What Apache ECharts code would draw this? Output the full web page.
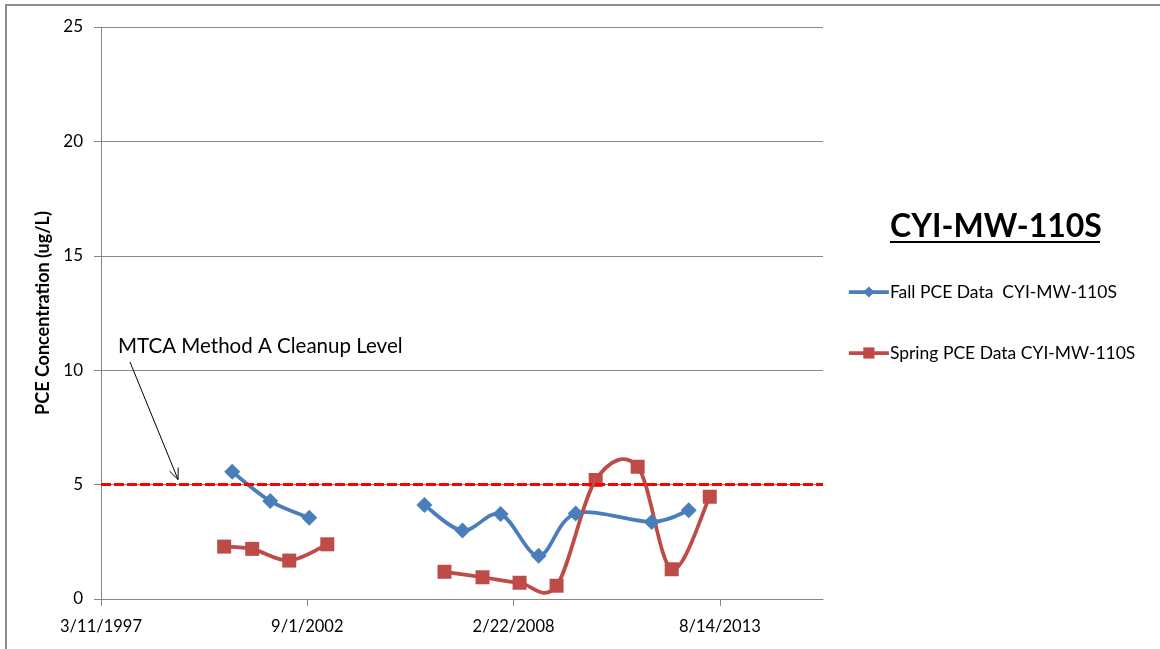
<!DOCTYPE html>
<html>
<head>
<meta charset="utf-8">
<title>CYI-MW-110S</title>
<script src="https://cdn.jsdelivr.net/npm/echarts@6/dist/echarts.min.js"></script>
<style>
  html, body { margin: 0; padding: 0; background: #fff; }
  #chart { width: 1160px; height: 649px; }
</style>
</head>
<body>
<div id="chart"></div>
<script>
// sample dates and PCE values in ug/L
// null marks the gap where the line is broken
const fallDates = ['2000-09-03', '2001-09-07', '2002-09-20', '2004-01-01',
  '2005-10-11', '2006-10-15', '2007-10-19', '2008-10-22', '2009-10-16', '2011-10-23', '2012-10-16']
const fallValues = [5.56, 4.28, 3.55, null, 4.11, 2.99, 3.71, 1.89, 3.74, 3.37, 3.88]

const springDates = ['2000-06-17', '2001-03-16', '2002-03-10', '2003-03-14', '2004-09-01',
  '2006-04-23', '2007-04-27', '2008-04-20', '2009-04-14', '2010-04-28', '2011-06-09', '2012-05-04', '2013-05-08']
const springValues = [2.29, 2.19, 1.68, 2.39, null, 1.19, 0.95, 0.71, 0.58, 5.2, 5.78, 1.3, 4.47]

const cleanupLevel = 5
const yTicks = [0, 5, 10, 15, 20, 25]

const DAY = 86400000
const xMin = Date.UTC(1997, 2, 11)
const xStep = 2000 * DAY
const xMax = xMin + 7000 * DAY

// annotation: arrow from label down to the cleanup line (data coords)
const noteText = 'MTCA Method A Cleanup Level'
const noteAt = [xMin + 165 * DAY, 11.06]
const arrowFrom = [xMin + 281 * DAY, 10.36]
const arrowTo = [xMin + 747 * DAY, 5.22]

const FALL = 'Fall PCE Data  CYI-MW-110S'
const SPRING = 'Spring PCE Data CYI-MW-110S'
const BLUE = '#4a7ebb'
const RED = '#be4b48'

const toPairs = (dates, vals) => dates.map((d, i) => [Date.parse(d), vals[i]])

// split on nulls -> runs of points
function runsOf(pairs) {
  const runs = []
  let cur = []
  pairs.forEach(p => {
    if (p[1] == null) {
      if (cur.length) runs.push(cur)
      cur = []
    } else {
      cur.push(p)
    }
  })
  if (cur.length) runs.push(cur)
  return runs
}

const fmtDate = v => {
  const d = new Date(v)
  return (d.getUTCMonth() + 1) + '/' + d.getUTCDate() + '/' + d.getUTCFullYear()
}

// Excel-style smoothed line (Catmull-Rom bezier), placed via api.coord
function smoothCurve(pairs, color) {
  const runs = runsOf(pairs)
  return function (params, api) {
    if (params.dataIndex !== 0) return { type: 'group', children: [] }
    const children = []
    runs.forEach(run => {
      const pts = run.map(p => api.coord(p))
      for (let i = 0; i < pts.length - 1; i++) {
        const p0 = pts[Math.max(i - 1, 0)]
        const p1 = pts[i]
        const p2 = pts[i + 1]
        const p3 = pts[Math.min(i + 2, pts.length - 1)]
        children.push({
          type: 'bezierCurve',
          shape: {
            x1: p1[0], y1: p1[1],
            x2: p2[0], y2: p2[1],
            cpx1: p1[0] + (p2[0] - p0[0]) / 6,
            cpy1: p1[1] + (p2[1] - p0[1]) / 6,
            cpx2: p2[0] - (p3[0] - p1[0]) / 6,
            cpy2: p2[1] - (p3[1] - p1[1]) / 6
          },
          style: { stroke: color, lineWidth: 3.75, fill: 'none', lineCap: 'round' }
        })
      }
    })
    return { type: 'group', children }
  }
}

const fallPairs = toPairs(fallDates, fallValues)
const springPairs = toPairs(springDates, springValues)

const FONT = 'Lato, "Open Sans", sans-serif'
const AXIS_GREY = '#868686'

const chart = echarts.init(document.getElementById('chart'))

chart.setOption({
  animation: false,
  backgroundColor: '#fff',
  textStyle: { fontFamily: FONT, color: '#000' },
  title: {
    text: 'CYI-MW-110S',
    left: 991,
    top: 206,
    textAlign: 'center',
    textStyle: { fontFamily: FONT, fontSize: 32, fontWeight: 'bold', color: '#000' }
  },
  legend: {
    orient: 'vertical',
    left: 842,
    top: 278,
    itemWidth: 40,
    itemHeight: 14,
    itemGap: 43,
    textStyle: { fontFamily: FONT, fontSize: 17.5, color: '#000', padding: [0, 0, 0, -4] },
    data: [
      { name: FALL, lineStyle: { color: BLUE, width: 3.75 } },
      { name: SPRING, lineStyle: { color: RED, width: 3.75 } }
    ]
  },
  grid: {
    left: 101,
    top: 27,
    right: 337,
    bottom: 50,
    containLabel: false,
    outerBoundsMode: 'none'
  },
  xAxis: {
    type: 'value',
    min: xMin,
    max: xMax,
    interval: xStep,
    axisLine: { show: true, lineStyle: { color: AXIS_GREY, width: 1 } },
    axisTick: { show: true, length: 7, lineStyle: { color: AXIS_GREY } },
    splitLine: { show: false },
    axisLabel: {
      showMaxLabel: false,
      margin: 19,
      fontSize: 16.5,
      color: '#000',
      fontFamily: FONT,
      formatter: fmtDate
    }
  },
  yAxis: {
    type: 'value',
    min: yTicks[0],
    max: yTicks[yTicks.length - 1],
    interval: yTicks[1] - yTicks[0],
    name: 'PCE Concentration (ug/L)',
    nameLocation: 'middle',
    nameGap: 48,
    nameTextStyle: { fontFamily: FONT, fontSize: 18, fontWeight: 'bold', color: '#000' },
    axisLine: { show: true, lineStyle: { color: AXIS_GREY, width: 1 } },
    axisTick: { show: true, length: 7, lineStyle: { color: AXIS_GREY } },
    splitLine: { show: true, lineStyle: { color: AXIS_GREY, width: 1 } },
    axisLabel: { margin: 18, fontSize: 17, color: '#000', fontFamily: FONT }
  },
  series: [
    {
      name: 'cleanup',
      type: 'line',
      data: [],
      silent: true,
      markLine: {
        silent: true,
        symbol: 'none',
        label: { show: false },
        lineStyle: { color: '#ff0000', width: 3, type: [10, 3] },
        data: [{ yAxis: cleanupLevel }]
      }
    },
    {
      name: 'fallCurve',
      type: 'custom',
      silent: true,
      z: 1,
      data: fallPairs.filter(p => p[1] != null),
      encode: { x: 0, y: 1 },
      renderItem: smoothCurve(fallPairs, BLUE)
    },
    {
      name: 'springCurve',
      type: 'custom',
      silent: true,
      z: 1,
      data: springPairs.filter(p => p[1] != null),
      encode: { x: 0, y: 1 },
      renderItem: smoothCurve(springPairs, RED)
    },
    {
      name: FALL,
      type: 'line',
      connectNulls: false,
      symbol: 'diamond',
      symbolSize: 16,
      data: fallPairs,
      itemStyle: { color: BLUE },
      lineStyle: { color: BLUE, width: 0 }
    },
    {
      name: SPRING,
      type: 'line',
      connectNulls: false,
      symbol: 'rect',
      symbolSize: 14,
      data: springPairs,
      itemStyle: { color: RED },
      lineStyle: { color: RED, width: 0 }
    }
  ]
})

// annotation and chart border, placed through the chart's own scales
function drawNotes() {
  const p0 = chart.convertToPixel({ gridIndex: 0 }, arrowFrom)
  const p1 = chart.convertToPixel({ gridIndex: 0 }, arrowTo)
  const pt = chart.convertToPixel({ gridIndex: 0 }, noteAt)
  const ang = Math.atan2(p1[1] - p0[1], p1[0] - p0[0])
  const headLen = 12
  const spread = 0.4
  const h1 = [p1[0] - headLen * Math.cos(ang - spread), p1[1] - headLen * Math.sin(ang - spread)]
  const h2 = [p1[0] - headLen * Math.cos(ang + spread), p1[1] - headLen * Math.sin(ang + spread)]

  chart.setOption({
    graphic: [
      {
        type: 'rect',
        shape: { x: 6, y: 5, width: 1200, height: 700 },
        style: { fill: 'none', stroke: '#8c8c8c', lineWidth: 2 },
        silent: true,
        z: -1
      },
      {
        type: 'text',
        x: pt[0],
        y: pt[1],
        style: {
          text: noteText,
          font: '20.5px ' + FONT,
          fill: '#000',
          textVerticalAlign: 'middle'
        },
        silent: true
      },
      {
        type: 'polyline',
        shape: { points: [p0, p1] },
        style: { stroke: '#000', lineWidth: 1, fill: 'none' },
        silent: true
      },
      {
        type: 'polyline',
        shape: { points: [h1, p1, h2] },
        style: { stroke: '#000', lineWidth: 1, fill: 'none' },
        silent: true
      },
      {
        type: 'line',
        shape: { x1: 890, y1: 242, x2: 1100, y2: 242 },
        style: { stroke: '#000', lineWidth: 2 },
        silent: true
      }
    ]
  })
}
drawNotes()
</script>
</body>
</html>
